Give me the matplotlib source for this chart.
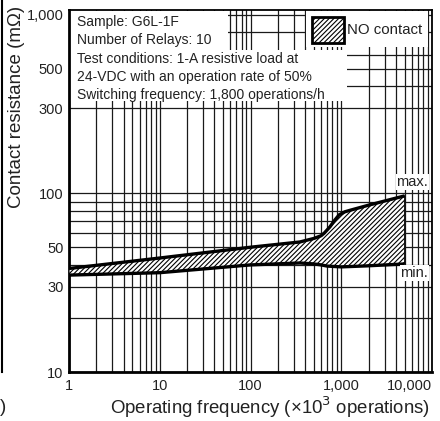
import matplotlib
matplotlib.use("Agg")
import matplotlib.pyplot as plt
import numpy as np
from matplotlib.patches import Rectangle
from matplotlib.ticker import FixedLocator, NullFormatter

plt.rcParams['font.family'] = ['Liberation Sans', 'DejaVu Sans']
plt.rcParams['hatch.linewidth'] = 0.8

# operating frequency (x10^3 operations) and contact resistance (mOhm)
ops_max = [1, 10, 100, 350, 500, 600, 650, 750, 850, 950, 1100, 1250, 2000, 5000]
res_max = [38, 43.5, 50, 53.5, 56, 58, 60, 65, 71, 76, 79, 80.5, 86, 97]
ops_min = [1, 10, 100, 350, 500, 600, 700, 1000, 1900, 5000]
res_min = [34.9, 36, 39.8, 40.8, 40.3, 39.8, 39.2, 38.8, 39.3, 40.3]

x_ticks = [1, 10, 100, 1000, 10000]
x_labels = ['1', '10', '100', '1,000', '10,000']
y_ticks = [10, 30, 50, 100, 300, 500, 1000]
y_labels = ['10', '30', '50', '100', '300', '500', '1,000']
y_minor = [20, 40, 60, 70, 80, 90, 400, 600, 800]

W, H = 440, 421
L, R, T, B = 69, 432, 10, 372
HATCH = '///////'

fig = plt.figure(figsize=(W / 100, H / 100), dpi=100)
ax = fig.add_axes([L / W, 1 - B / H, (R - L) / W, (B - T) / H])
ax.set_xscale('log')
ax.set_yscale('log')
ax.set_xlim(1, 10000)
ax.set_ylim(10, 1066)


def pos(x, y):
    # pixel position -> axes fraction
    return (x - L) / (R - L), (B - y) / (B - T)


# band between min and max
xs = sorted(set(ops_max + ops_min))
lo = np.interp(np.log10(xs), np.log10(ops_min), res_min)
hi = np.interp(np.log10(xs), np.log10(ops_max), res_max)
ax.fill_between(xs, lo, hi, facecolor='white', edgecolor='black', hatch=HATCH,
                linewidth=0.8, zorder=3)
ax.plot(ops_max, res_max, color='black', lw=2.4, zorder=4, solid_capstyle='butt')
ax.plot(ops_min, res_min, color='black', lw=2.4, zorder=4, solid_capstyle='butt')

ax.set_xticks(x_ticks)
ax.set_xticklabels(x_labels)
ax.get_xticklabels()[-1].set_horizontalalignment('right')
ax.set_yticks(y_ticks)
ax.set_yticklabels(y_labels)
ax.yaxis.set_minor_locator(FixedLocator(y_minor))
ax.yaxis.set_minor_formatter(NullFormatter())
ax.tick_params(which='both', direction='in', length=0, labelsize=10.5, colors='#222')
ax.tick_params(axis='y', pad=4)
ax.tick_params(axis='x', pad=5)
ax.grid(which='both', color='#1a1a1a', lw=0.9)

for s in ax.spines.values():
    s.set_linewidth(1.3)
ax.spines['left'].set_linewidth(2)
ax.spines['bottom'].set_linewidth(2)

# white areas behind the notes
for x0, y0, x1, y1 in [(70, 11, 228, 50), (70, 50, 347, 101), (306, 11, 428, 47)]:
    ax0, ay1 = pos(x0, y0)
    ax1, ay0 = pos(x1, y1)
    ax.add_patch(Rectangle((ax0, ay0), ax1 - ax0, ay1 - ay0, transform=ax.transAxes,
                           facecolor='white', edgecolor='none', zorder=2))

notes = ['Sample: G6L-1F',
         'Number of Relays: 10',
         'Test conditions: 1-A resistive load at',
         '24-VDC with an operation rate of 50%',
         'Switching frequency: 1,800 operations/h']
for i, t in enumerate(notes):
    ax.text(*pos(77, 22 + i * 18.3), t, transform=ax.transAxes, fontsize=10,
            va='center', ha='left', color='#222', zorder=5)

# legend swatch
sx0, sy1 = pos(312, 17)
sx1, sy0 = pos(344, 43)
ax.add_patch(Rectangle((sx0, sy0), sx1 - sx0, sy1 - sy0, transform=ax.transAxes,
                       facecolor='white', edgecolor='black', hatch=HATCH, lw=2, zorder=5))
ax.text(*pos(347, 30), 'NO contact', transform=ax.transAxes, fontsize=10.8,
        va='center', ha='left', color='#222', zorder=5)

ax.text(*pos(428, 182), 'max.', transform=ax.transAxes, fontsize=10.5, ha='right',
        va='center', color='#222', zorder=5,
        bbox=dict(facecolor='white', edgecolor='none', pad=0.5))
ax.text(*pos(428, 273), 'min.', transform=ax.transAxes, fontsize=10.5, ha='right',
        va='center', color='#222', zorder=5,
        bbox=dict(facecolor='white', edgecolor='none', pad=0.5))

fig.text(17 / W, 1 - 107 / H, 'Contact resistance (m\u03a9)', rotation=90,
         ha='center', va='center', fontsize=13.5, color='#222')
fig.text(430 / W, 1 - 407 / H, 'Operating frequency (\u00d710$^{3}$ operations)',
         ha='right', va='center', fontsize=13.4, color='#222')

# bits of the neighbouring figure at the left edge
fig.add_artist(plt.Line2D([1.5 / W, 1.5 / W], [1 - 0 / H, 1 - 372 / H], color='black', lw=1.5))
fig.text(0, 1 - 407 / H, ')', ha='left', va='center', fontsize=13.4, color='#222')

fig.savefig('out.png', dpi=100)
